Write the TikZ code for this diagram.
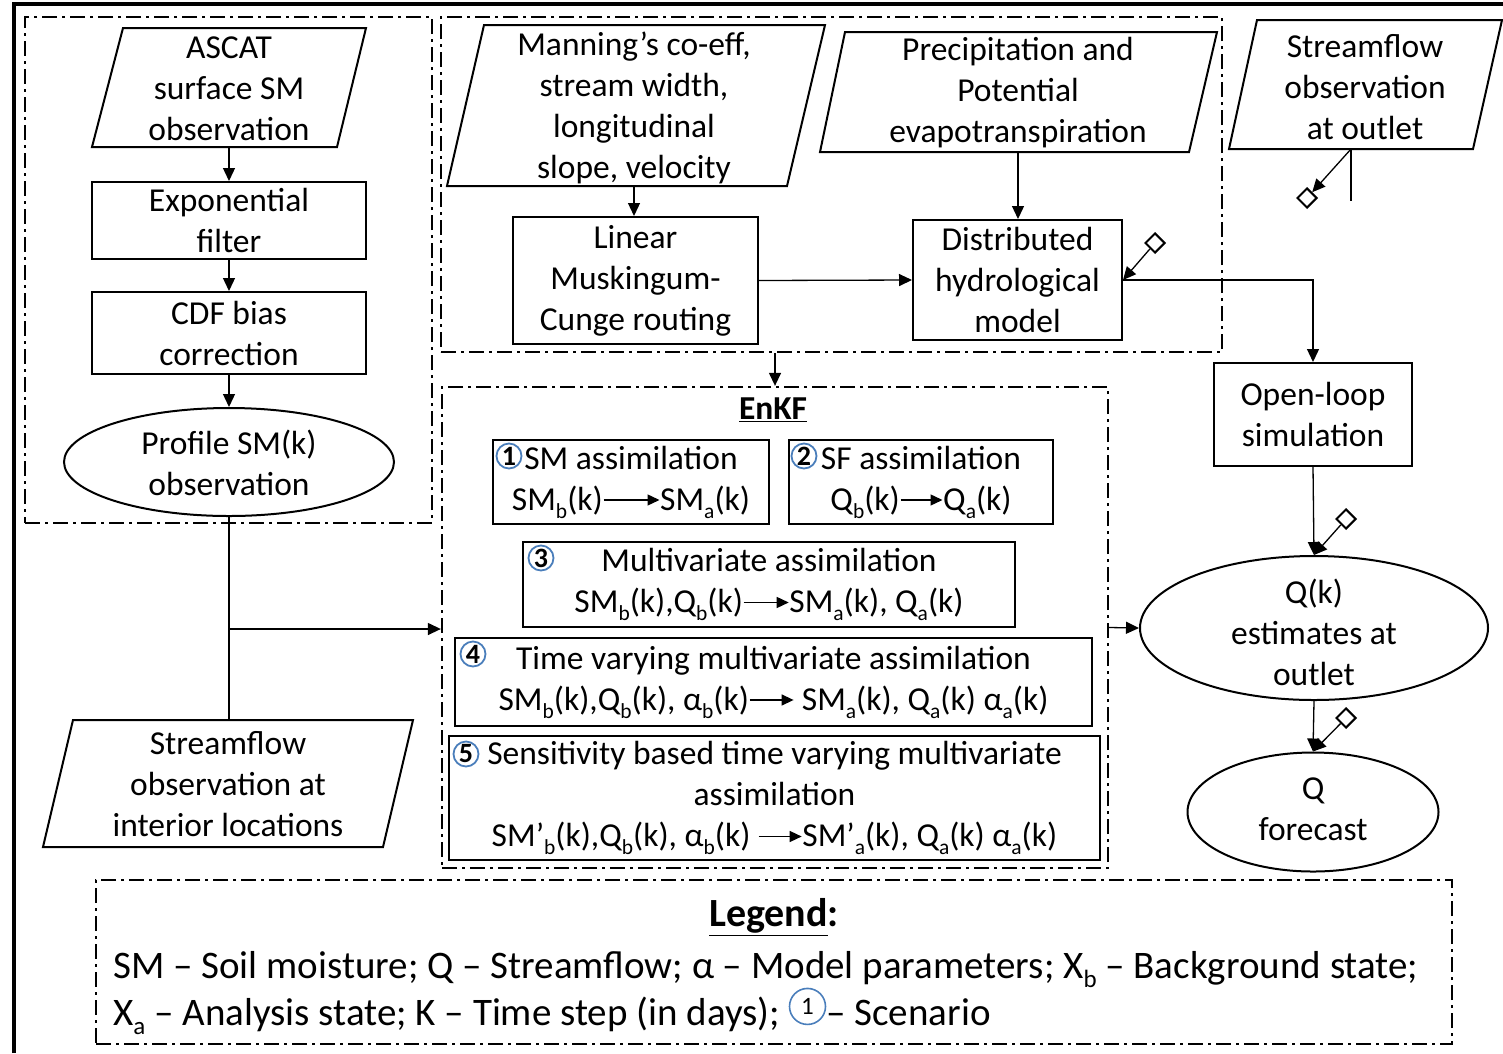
\documentclass[tikz,border=0pt]{standalone}
\usepackage{fontspec}
\setmainfont{Carlito}
\usetikzlibrary{arrows.meta,shapes.geometric}
\definecolor{cblue}{RGB}{74,126,187}
\newcommand{\tarr}[1]{\tikz[baseline=-0.3em]{\draw[line width=1.4pt,-{Triangle[length=12pt,width=11pt]}] (0pt,0pt)--(#1pt,0pt);}}
\newcommand{\lo}[1]{\raisebox{-0.24em}{\fontsize{0.64em}{0.64em}\selectfont #1}}
\tikzset{
 txt/.style={font=\fontsize{33.5}{41}\selectfont, align=center, inner sep=0pt},
 box/.style={draw, line width=2pt, rectangle, inner sep=0pt, txt},
 ell/.style={draw, line width=2pt, ellipse, inner sep=0pt},
 pbox/.style={draw, line width=2pt, line join=miter},
 grp/.style={draw, line width=2.3pt, dash pattern=on 15pt off 5pt on 3pt off 5pt, rectangle, inner sep=0pt},
 conn/.style={line width=1.3pt, -{Triangle[length=13pt,width=12pt]}},
 plain/.style={line width=1.3pt},
 dm/.style={diamond, draw, line width=2pt, minimum size=20pt, inner sep=0pt},
 cn/.style={circle, draw=cblue, line width=1.8pt, minimum size=25pt, inner sep=0pt, font=\fontsize{28}{28}\selectfont\bfseries},
}
\begin{document}
\begin{tikzpicture}[x=1pt,y=-1pt]
\useasboundingbox (0,0) rectangle (1503,1053);
% outer frame
\draw[line width=4pt] (14,1053) -- (14,4) -- (1503,4);
% group boxes
\node[grp, minimum width=407pt, minimum height=506pt] (grpL) at (228.5,270) {};
\node[grp, minimum width=781pt, minimum height=335pt] (grpT) at (831.5,184.5) {};
\node[grp, minimum width=666pt, minimum height=481pt] (enkf) at (775,627.5) {};
\node[grp, minimum width=1356pt, minimum height=164pt] (leg) at (774,962) {};
% parallelograms
\draw[pbox] (123,28) -- (366,28) -- (337,147) -- (92,147) -- cycle;
\node[txt] (tascat) at (229,89) {ASCAT\\surface SM\\observation};
\draw[pbox] (484,25) -- (825,25) -- (787,186) -- (447,186) -- cycle;
\node[txt] (tman) at (634,108) {Manning’s co-eff,\\stream width,\\longitudinal\\slope, velocity};
\draw[pbox] (845,32) -- (1217,32) -- (1189,152) -- (820,152) -- cycle;
\node[txt] (tprec) at (1018,93) {Precipitation and\\Potential\\evapotranspiration};
\draw[pbox] (1257,20) -- (1502,20) -- (1473,149) -- (1229,149) -- cycle;
\node[txt] (tsfout) at (1365,87) {Streamflow\\observation\\at outlet};
\draw[pbox] (73,720) -- (413,720) -- (383,847) -- (43,847) -- cycle;
\node[txt] (tsfint) at (228,784) {Streamflow\\observation at\\interior locations};
% boxes
\node[box, minimum width=274pt, minimum height=77pt] (expf) at (229,220.5) {Exponential\\filter};
\node[box, minimum width=274pt, minimum height=82pt] (cdf) at (229,333) {CDF bias\\correction};
\node[ell, minimum width=330pt, minimum height=108pt] (prof) at (229,462) {};
\node[txt] (tprof) at (229,463) {Profile SM(k)\\observation};
\node[box, minimum width=245pt, minimum height=127pt] (linear) at (635.5,280.5) {Linear\\Muskingum-\\Cunge routing};
\node[box, minimum width=209pt, minimum height=120pt] (dist) at (1017.5,280) {Distributed\\hydrological\\model};
\node[box, minimum width=198pt, minimum height=103pt] (openloop) at (1313,414.5) {Open-loop\\simulation};
\node[ell, minimum width=348pt, minimum height=144pt] (qk) at (1314,628) {};
\node[txt] (tqk) at (1314,632) {Q(k)\\estimates at\\outlet};
\node[ell, minimum width=251pt, minimum height=119pt] (qf) at (1313,812) {};
\node[txt] (tqf) at (1313,809) {Q\\forecast};
% EnKF content
\node[txt, font=\fontsize{33.5}{41}\selectfont\bfseries] (enkft) at (773,410) {\underline{EnKF}};
\node[box, minimum width=276pt, minimum height=84pt] (b1) at (631,482) {SM assimilation\\SM\lo{b}(k)\tarr{56}SM\lo{a}(k)};
\node[box, minimum width=264pt, minimum height=84pt] (b2) at (921,482) {SF assimilation\\Q\lo{b}(k)\tarr{42}Q\lo{a}(k)};
\node[box, minimum width=492pt, minimum height=85pt] (b3) at (769,584.5) {Multivariate assimilation\\SM\lo{b}(k),Q\lo{b}(k)\tarr{45}SM\lo{a}(k), Q\lo{a}(k)};
\node[box, minimum width=637pt, minimum height=88pt] (b4) at (773.5,682) {Time varying multivariate assimilation\\SM\lo{b}(k),Q\lo{b}(k), α\lo{b}(k)\tarr{44} SM\lo{a}(k), Q\lo{a}(k) α\lo{a}(k)};
\node[box, minimum width=651pt, minimum height=124pt] (b5) at (774.5,798) {Sensitivity based time varying multivariate\\assimilation\\SM’\lo{b}(k),Q\lo{b}(k), α\lo{b}(k) \tarr{43}SM’\lo{a}(k), Q\lo{a}(k) α\lo{a}(k)};
\node[cn] (c1) at (509,456) {1};
\node[cn] (c2) at (804,456) {2};
\node[cn] (c3) at (541,558) {3};
\node[cn] (c4) at (473,654) {4};
\node[cn] (c5) at (466,754) {5};
% legend
\node[inner sep=0pt, font=\fontsize{40}{40}\selectfont\bfseries] (legt) at (774,917) {\underline{Legend}:};
\node[anchor=base west, inner sep=0pt, font=\fontsize{39}{39}\selectfont] (leg1) at (113,978) {SM – Soil moisture; Q – Streamflow; α – Model parameters; X\lo{b} – Background state;};
\node[anchor=base west, inner sep=0pt, font=\fontsize{39}{39}\selectfont] (leg2) at (113,1025) {X\lo{a} – Analysis state; K – Time step (in days); \tikz[baseline=-0.27em]\node[circle,draw=cblue,line width=1.6pt,minimum size=36pt,inner sep=0pt,font=\fontsize{25}{25}\selectfont]{1};– Scenario};
% connectors
\coordinate (ascatB) at (229,147);
\draw[conn] (ascatB) -- (expf.north);
\draw[conn] (expf.south) -- (cdf.north);
\draw[conn] (cdf.south) -- (prof.north);
\coordinate (sfintT) at (229,720);
\draw[plain] (prof.south) -- (sfintT);
\coordinate (j1) at (229,629);
\draw[conn] (j1) -- (j1 -| enkf.west);
\coordinate (manB) at (634,186);
\draw[conn] (manB) -- (manB |- linear.north);
\draw[conn] (linear.east) -- (dist.west);
\coordinate (precB) at (1018,152);
\draw[conn] (precB) -- (precB |- dist.north);
\draw[conn] (dist.east) -| (openloop.north);
\draw[conn] (openloop.south) -- (qk.north);
\draw[conn] (qk.south) -- (qf.north);
\draw[conn] (enkf.east) -- (qk.west);
\draw[conn] (grpT.south -| enkf.north) -- (enkf.north);
% diamonds
\node[dm] (d1) at (1307,198) {};
\coordinate (sfoutB) at (1351,149);
\coordinate (sfoutE) at (1351,201);
\draw[plain] (sfoutB) -- (sfoutE);
\draw[conn] (sfoutB) -- (d1);
\node[dm] (d2) at (1155,243) {};
\draw[conn] (d2) -- (dist.east);
\node[dm] (d3) at (1346,519) {};
\draw[conn] (d3) -- (qk.north);
\node[dm] (d4) at (1346,718) {};
\draw[conn] (d4) -- (qf.north);
\end{tikzpicture}
\end{document}
